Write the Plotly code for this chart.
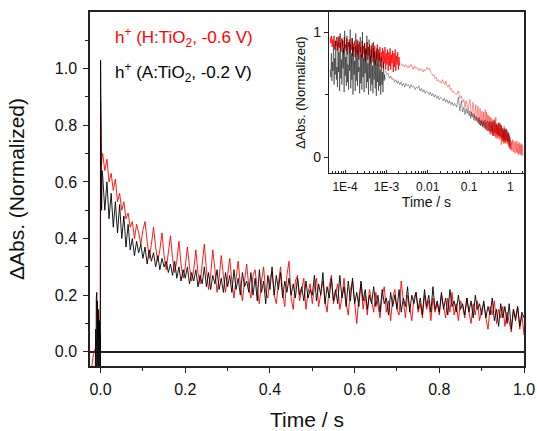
import numpy as np
import plotly.graph_objects as go

# ---------------- data ----------------
# time grid of the slow (ms-s) transients, seconds
t_main = np.round(np.arange(1, 201) * 0.005, 4)
t_ext = np.round(1.0 + np.arange(1, 41) * 0.025, 4)   # red record continues to 2 s

# black: h+ (A:TiO2, -0.2 V)
black_pre_t = [-0.025, -0.0125, -0.0115, -0.0108, -0.0101, -0.0095, -0.0089, -0.0083,
               -0.0077, -0.0071, -0.0065, -0.0059, -0.0053, -0.0047, -0.0041, -0.0035,
               -0.0029, -0.0023, -0.0017, -0.0011, -0.0005, -0.0002, 0.0,
               0.0008, 0.0016, 0.0025, 0.0035]
black_pre_v = [-0.08, -0.08, 0.08, -0.07, 0.19, -0.07, 0.21, -0.07,
               0.18, -0.07, 0.17, -0.07, 0.15, -0.07, 0.13, -0.07,
               0.11, -0.07, 0.09, -0.07, 0.06, -0.08, 1.03,
               0.55, 0.68, 0.50, 0.64]
black_main = [
    0.62, 0.50, 0.60, 0.47, 0.56, 0.44, 0.53, 0.42, 0.52, 0.40,
    0.48, 0.37, 0.45, 0.36, 0.40, 0.34, 0.39, 0.35, 0.38, 0.33,
    0.37, 0.31, 0.36, 0.32, 0.35, 0.30, 0.34, 0.29, 0.33, 0.30,
    0.32, 0.28, 0.31, 0.27, 0.32, 0.26, 0.30, 0.25, 0.29, 0.26,
    0.30, 0.24, 0.28, 0.25, 0.29, 0.23, 0.27, 0.24, 0.30, 0.23,
    0.28, 0.22, 0.27, 0.24, 0.29, 0.22, 0.26, 0.21, 0.28, 0.23,
    0.27, 0.21, 0.29, 0.22, 0.26, 0.20, 0.28, 0.23, 0.25, 0.21,
    0.28, 0.20, 0.26, 0.18, 0.29, 0.21, 0.25, 0.17, 0.27, 0.22,
    0.30, 0.20, 0.27, 0.22, 0.28, 0.19, 0.25, 0.21, 0.26, 0.20,
    0.24, 0.19, 0.26, 0.20, 0.23, 0.18, 0.25, 0.19, 0.22, 0.20,
    0.27, 0.18, 0.24, 0.20, 0.28, 0.17, 0.23, 0.19, 0.26, 0.18,
    0.22, 0.17, 0.27, 0.19, 0.23, 0.16, 0.25, 0.18, 0.26, 0.17,
    0.21, 0.16, 0.25, 0.18, 0.22, 0.15, 0.20, 0.17, 0.23, 0.16,
    0.20, 0.14, 0.22, 0.17, 0.19, 0.13, 0.21, 0.16, 0.20, 0.15,
    0.22, 0.14, 0.19, 0.16, 0.23, 0.14, 0.20, 0.17, 0.21, 0.15,
    0.19, 0.13, 0.22, 0.16, 0.20, 0.14, 0.23, 0.15, 0.18, 0.14,
    0.21, 0.15, 0.19, 0.13, 0.22, 0.16, 0.18, 0.14, 0.20, 0.15,
    0.17, 0.13, 0.19, 0.14, 0.18, 0.12, 0.20, 0.15, 0.17, 0.13,
    0.18, 0.12, 0.16, 0.13, 0.19, 0.11, 0.15, 0.09, 0.17, 0.12,
    0.16, 0.10, 0.17, 0.08, 0.15, 0.11, 0.16, 0.09, 0.14, 0.12,
]

# red: h+ (H:TiO2, -0.6 V)
red_pre_t = [-0.025, -0.021, -0.017, -0.013, -0.009, -0.006, -0.003, -0.001, 0.0,
             0.0008, 0.002, 0.0035]
red_pre_v = [-0.10, -0.05, -0.01, 0.01, 0.03, 0.05, 0.08, 0.17, 0.88,
             0.72, 0.66, 0.69]
red_main = [
    0.70, 0.64, 0.68, 0.60, 0.63, 0.57, 0.61, 0.53, 0.56, 0.50,
    0.53, 0.47, 0.49, 0.44, 0.46, 0.40, 0.45, 0.42, 0.38, 0.43,
    0.46, 0.39, 0.33, 0.38, 0.44, 0.37, 0.32, 0.36, 0.42, 0.34,
    0.29, 0.35, 0.41, 0.33, 0.28, 0.32, 0.39, 0.31, 0.26, 0.30,
    0.37, 0.30, 0.25, 0.29, 0.36, 0.28, 0.24, 0.31, 0.38, 0.29,
    0.22, 0.27, 0.36, 0.29, 0.21, 0.26, 0.34, 0.27, 0.21, 0.27,
    0.33, 0.25, 0.19, 0.26, 0.32, 0.24, 0.18, 0.25, 0.31, 0.23,
    0.19, 0.27, 0.29, 0.22, 0.17, 0.25, 0.30, 0.21, 0.19, 0.26,
    0.28, 0.20, 0.17, 0.24, 0.30, 0.21, 0.16, 0.27, 0.32, 0.19,
    0.15, 0.25, 0.27, 0.18, 0.22, 0.26, 0.15, 0.21, 0.24, 0.17,
    0.23, 0.26, 0.16, 0.20, 0.25, 0.18, 0.14, 0.23, 0.27, 0.17,
    0.20, 0.24, 0.15, 0.19, 0.26, 0.17, 0.13, 0.22, 0.25, 0.16,
    0.10, 0.19, 0.24, 0.15, 0.20, 0.13, 0.22, 0.18, 0.14, 0.21,
    0.17, 0.12, 0.20, 0.23, 0.14, 0.18, 0.11, 0.19, 0.22, 0.15,
    0.13, 0.25, 0.18, 0.12, 0.20, 0.16, 0.11, 0.19, 0.21, 0.14,
    0.17, 0.12, 0.20, 0.15, 0.18, 0.11, 0.19, 0.14, 0.17, 0.13,
    0.20, 0.16, 0.12, 0.19, 0.14, 0.21, 0.13, 0.17, 0.11, 0.18,
    0.16, 0.12, 0.19, 0.14, 0.10, 0.17, 0.13, 0.18, 0.11, 0.15,
    0.17, 0.12, 0.08, 0.16, 0.13, 0.18, 0.10, 0.15, 0.12, 0.16,
    0.09, 0.14, 0.11, 0.07, 0.15, 0.12, 0.16, 0.08, 0.13, 0.06,
]
red_ext = [
    0.13, 0.06, 0.12, 0.05, 0.14, 0.07, 0.11, 0.04, 0.13, 0.06,
    0.10, 0.03, 0.12, 0.05, 0.11, 0.04, 0.13, 0.06, 0.09, 0.03,
    0.11, 0.05, 0.10, 0.02, 0.12, 0.04, 0.09, 0.03, 0.10, 0.05,
    0.08, 0.02, 0.11, 0.04, 0.09, 0.01, 0.10, 0.03, 0.07, 0.02,
]

# inset only: fast (us-ms) transients and the early ms part on a log grid
red_fast = [
    0.96, 0.91, 0.97, 0.88, 0.94, 0.90, 0.97, 0.86, 0.93, 0.89,
    0.96, 0.85, 0.92, 0.88, 0.97, 0.87, 0.91, 0.84, 0.95, 0.89,
    0.93, 0.83, 0.96, 0.87, 0.90, 0.85, 0.95, 0.82, 0.92, 0.88,
    0.94, 0.83, 0.90, 0.86, 0.95, 0.81, 0.91, 0.85, 0.93, 0.80,
    0.89, 0.84, 0.94, 0.82, 0.90, 0.78, 0.92, 0.84, 0.88, 0.80,
    0.93, 0.79, 0.89, 0.83, 0.91, 0.77, 0.87, 0.82, 0.92, 0.78,
    0.88, 0.81, 0.90, 0.75, 0.86, 0.80, 0.91, 0.76, 0.87, 0.79,
    0.89, 0.74, 0.85, 0.78, 0.90, 0.73, 0.86, 0.77, 0.88, 0.72,
    0.84, 0.76, 0.87, 0.71, 0.85, 0.75, 0.88, 0.70, 0.83, 0.74,
    0.86, 0.69, 0.84, 0.73, 0.87, 0.70, 0.82, 0.75, 0.85, 0.68,
    0.83, 0.72, 0.86, 0.69, 0.81, 0.74, 0.84, 0.70, 0.80, 0.73,
]
black_fast = [
    0.70, 0.64, 0.83, 0.61, 0.76, 0.69, 0.90, 0.58, 0.79, 0.66,
    0.93, 0.62, 0.72, 0.56, 0.96, 0.68, 0.84, 0.53, 0.99, 0.63,
    0.78, 0.58, 0.94, 0.71, 0.87, 0.52, 1.01, 0.65, 0.80, 0.57,
    0.97, 0.60, 0.74, 0.54, 0.92, 0.69, 1.02, 0.55, 0.83, 0.62,
    0.95, 0.50, 0.88, 0.66, 0.77, 0.53, 0.99, 0.61, 0.85, 0.57,
    0.93, 0.68, 0.72, 0.51, 0.96, 0.59, 0.82, 0.54, 1.00, 0.64,
    0.79, 0.52, 0.91, 0.67, 0.86, 0.55, 0.97, 0.60, 0.75, 0.50,
    0.94, 0.63, 0.81, 0.53, 0.89, 0.58, 0.73, 0.51, 0.92, 0.62,
    0.84, 0.55, 0.78, 0.49, 0.87, 0.60, 0.74, 0.53, 0.83, 0.57,
    0.70, 0.50, 0.80, 0.58, 0.68, 0.52, 0.76, 0.61, 0.66, 0.62,
]
red_mid = [
    0.75, 0.73, 0.74, 0.72, 0.74, 0.73, 0.71, 0.73, 0.72, 0.74,
    0.72, 0.70, 0.73, 0.71, 0.72, 0.70, 0.71, 0.69, 0.71, 0.70,
    0.68, 0.70, 0.69, 0.71, 0.72, 0.70, 0.71, 0.68, 0.67, 0.65,
    0.66, 0.63, 0.64, 0.61, 0.62, 0.60, 0.61, 0.59, 0.62, 0.60,
    0.58, 0.61, 0.57, 0.56, 0.58, 0.54, 0.55, 0.52, 0.53, 0.51,
]
black_mid = [
    0.69, 0.66, 0.67, 0.63, 0.65, 0.62, 0.63, 0.60, 0.62, 0.59,
    0.61, 0.58, 0.60, 0.57, 0.59, 0.56, 0.59, 0.57, 0.58, 0.55,
    0.58, 0.56, 0.57, 0.54, 0.56, 0.55, 0.57, 0.53, 0.55, 0.52,
    0.54, 0.51, 0.53, 0.52, 0.50, 0.52, 0.49, 0.51, 0.48, 0.50,
    0.47, 0.49, 0.46, 0.48, 0.47, 0.45, 0.47, 0.44, 0.46, 0.43,
    0.45, 0.42, 0.44, 0.41, 0.43,
]
t_red_fast = np.logspace(-4.36, -2.68, len(red_fast))
t_black_fast = np.logspace(-4.36, -3.03, len(black_fast))
t_red_mid = np.logspace(-2.64, -1.35, len(red_mid))
t_black_mid = np.logspace(-3.02, -1.35, len(black_mid))

labels = ["h<sup>+</sup> (H:TiO<sub>2</sub>, -0.6 V)",
          "h<sup>+</sup> (A:TiO<sub>2</sub>, -0.2 V)"]
main_yticks = [0.0, 0.2, 0.4, 0.6, 0.8, 1.0]
inset_xticks = [1e-4, 1e-3, 1e-2, 1e-1, 1]
inset_xtext = ["1E-4", "1E-3", "0.01", "0.1", "1"]

assert len(black_main) == len(t_main) and len(red_main) == len(t_main)
assert len(red_ext) == len(t_ext)

# ---------------- assemble ----------------
red_t = np.concatenate([red_pre_t, t_main, t_ext])
red_v = np.concatenate([red_pre_v, red_main, red_ext])
black_t = np.concatenate([black_pre_t, t_main])
black_v = np.concatenate([black_pre_v, black_main])

r_slow = red_t > 0.047
b_slow = black_t > 0.047
inset_red_slow_t = np.concatenate([t_red_mid, red_t[r_slow]])
inset_red_slow_v = np.concatenate([red_mid, red_v[r_slow]])
inset_black_slow_t = np.concatenate([t_black_mid, black_t[b_slow]])
inset_black_slow_v = np.concatenate([black_mid, black_v[b_slow]])

FONT = "Liberation Sans, Arial, sans-serif"
AX = "#222222"

fig = go.Figure()
fig.add_trace(go.Scatter(x=red_t, y=red_v, mode="lines",
                         line=dict(color="#ff0000", width=0.9), xaxis="x", yaxis="y"))
fig.add_trace(go.Scatter(x=black_t, y=black_v, mode="lines",
                         line=dict(color="#000000", width=0.9), xaxis="x", yaxis="y"))
# inset
fig.add_trace(go.Scatter(x=inset_black_slow_t, y=inset_black_slow_v, mode="lines",
                         line=dict(color="rgba(0,0,0,0.55)", width=0.7), xaxis="x2", yaxis="y2"))
fig.add_trace(go.Scatter(x=inset_red_slow_t, y=inset_red_slow_v, mode="lines",
                         line=dict(color="rgba(255,0,0,0.6)", width=0.7), xaxis="x2", yaxis="y2"))
fig.add_trace(go.Scatter(x=t_red_fast, y=red_fast, mode="lines",
                         line=dict(color="#ff0000", width=0.8), xaxis="x2", yaxis="y2"))
fig.add_trace(go.Scatter(x=t_black_fast, y=black_fast, mode="lines",
                         line=dict(color="rgba(0,0,0,0.8)", width=0.6), xaxis="x2", yaxis="y2"))

fig.update_layout(
    width=537, height=431,
    margin=dict(l=90, r=13, t=12, b=65),
    paper_bgcolor="white", plot_bgcolor="white",
    showlegend=False,
    font=dict(family=FONT, color="#111111"),
    xaxis=dict(
        domain=[0, 1], range=[-0.025, 1.0], anchor="y", automargin=False,
        tickmode="linear", tick0=0, dtick=0.2, tickformat=".1f",
        ticks="outside", ticklen=5, tickwidth=1.2, tickcolor=AX, ticklabelstandoff=3,
        minor=dict(dtick=0.1, tick0=0, ticks="outside", ticklen=3, tickwidth=1.2, tickcolor=AX),
        showline=True, linecolor=AX, linewidth=1.5, mirror=True,
        showgrid=False, zeroline=False,
        tickfont=dict(size=16, family=FONT),
        title=dict(text="Time / s", font=dict(size=21, family=FONT), standoff=24),
    ),
    yaxis=dict(
        domain=[0, 1], range=[-0.05, 1.2], anchor="x", automargin=False,
        tickmode="array", tickvals=main_yticks, tickformat=".1f",
        ticks="outside", ticklen=5, tickwidth=1.2, tickcolor=AX, ticklabelstandoff=3,
        minor=dict(tickvals=[0.1, 0.3, 0.5, 0.7, 0.9, 1.1], ticks="outside", ticklen=3,
                   tickwidth=1.2, tickcolor=AX),
        showline=True, linecolor=AX, linewidth=1.5, mirror=True,
        showgrid=False, zeroline=True, zerolinecolor=AX, zerolinewidth=1.5,
        tickfont=dict(size=16, family=FONT),
        title=dict(text="ΔAbs. (Normalized)", font=dict(size=21, family=FONT), standoff=24),
    ),
    xaxis2=dict(
        domain=[0.5507, 1.0], type="log", range=[-4.39, 0.33], anchor="y2", automargin=False,
        tickmode="array", tickvals=inset_xticks, ticktext=inset_xtext,
        ticks="inside", ticklen=3, tickwidth=1, tickcolor=AX, ticklabelstandoff=2,
        minor=dict(tickvals=[m * 10.0 ** e for e in range(-5, 1) for m in range(2, 10)],
                   ticks="inside", ticklen=2, tickwidth=0.8, tickcolor=AX),
        showline=True, linecolor=AX, linewidth=1.2, mirror=True,
        showgrid=False, zeroline=False,
        tickfont=dict(size=12, family=FONT),
        title=dict(text="Time / s", font=dict(size=14, family=FONT), standoff=0),
    ),
    yaxis2=dict(
        domain=[0.5438, 1.0], range=[-0.13, 1.16], anchor="x2", automargin=False,
        tickmode="array", tickvals=[0, 1],
        ticks="outside", ticklen=4, tickwidth=1, tickcolor=AX,
        minor=dict(tickvals=[0.5], ticks="outside", ticklen=3, tickwidth=1, tickcolor=AX),
        showline=True, linecolor=AX, linewidth=1.2, mirror=True,
        showgrid=False, zeroline=False,
        tickfont=dict(size=14, family=FONT),
        title=dict(text="ΔAbs. (Normalized)", font=dict(size=13, family=FONT), standoff=4),
    ),
)

fig.add_annotation(text=labels[0], xref="paper", yref="paper", x=0.053, y=0.929,
                   xanchor="left", yanchor="middle", showarrow=False,
                   font=dict(size=17, family=FONT, color="#ff0000"))
fig.add_annotation(text=labels[1], xref="paper", yref="paper", x=0.053, y=0.828,
                   xanchor="left", yanchor="middle", showarrow=False,
                   font=dict(size=17, family=FONT, color="#000000"))

# remove the default page margin so the 537x431 figure fills the window exactly
fig.write_html(
    "out.html",
    config={"displayModeBar": False},
    post_script="document.body.style.margin='0';"
                "document.body.style.overflow='hidden';"
                "document.documentElement.style.overflow='hidden';",
)
